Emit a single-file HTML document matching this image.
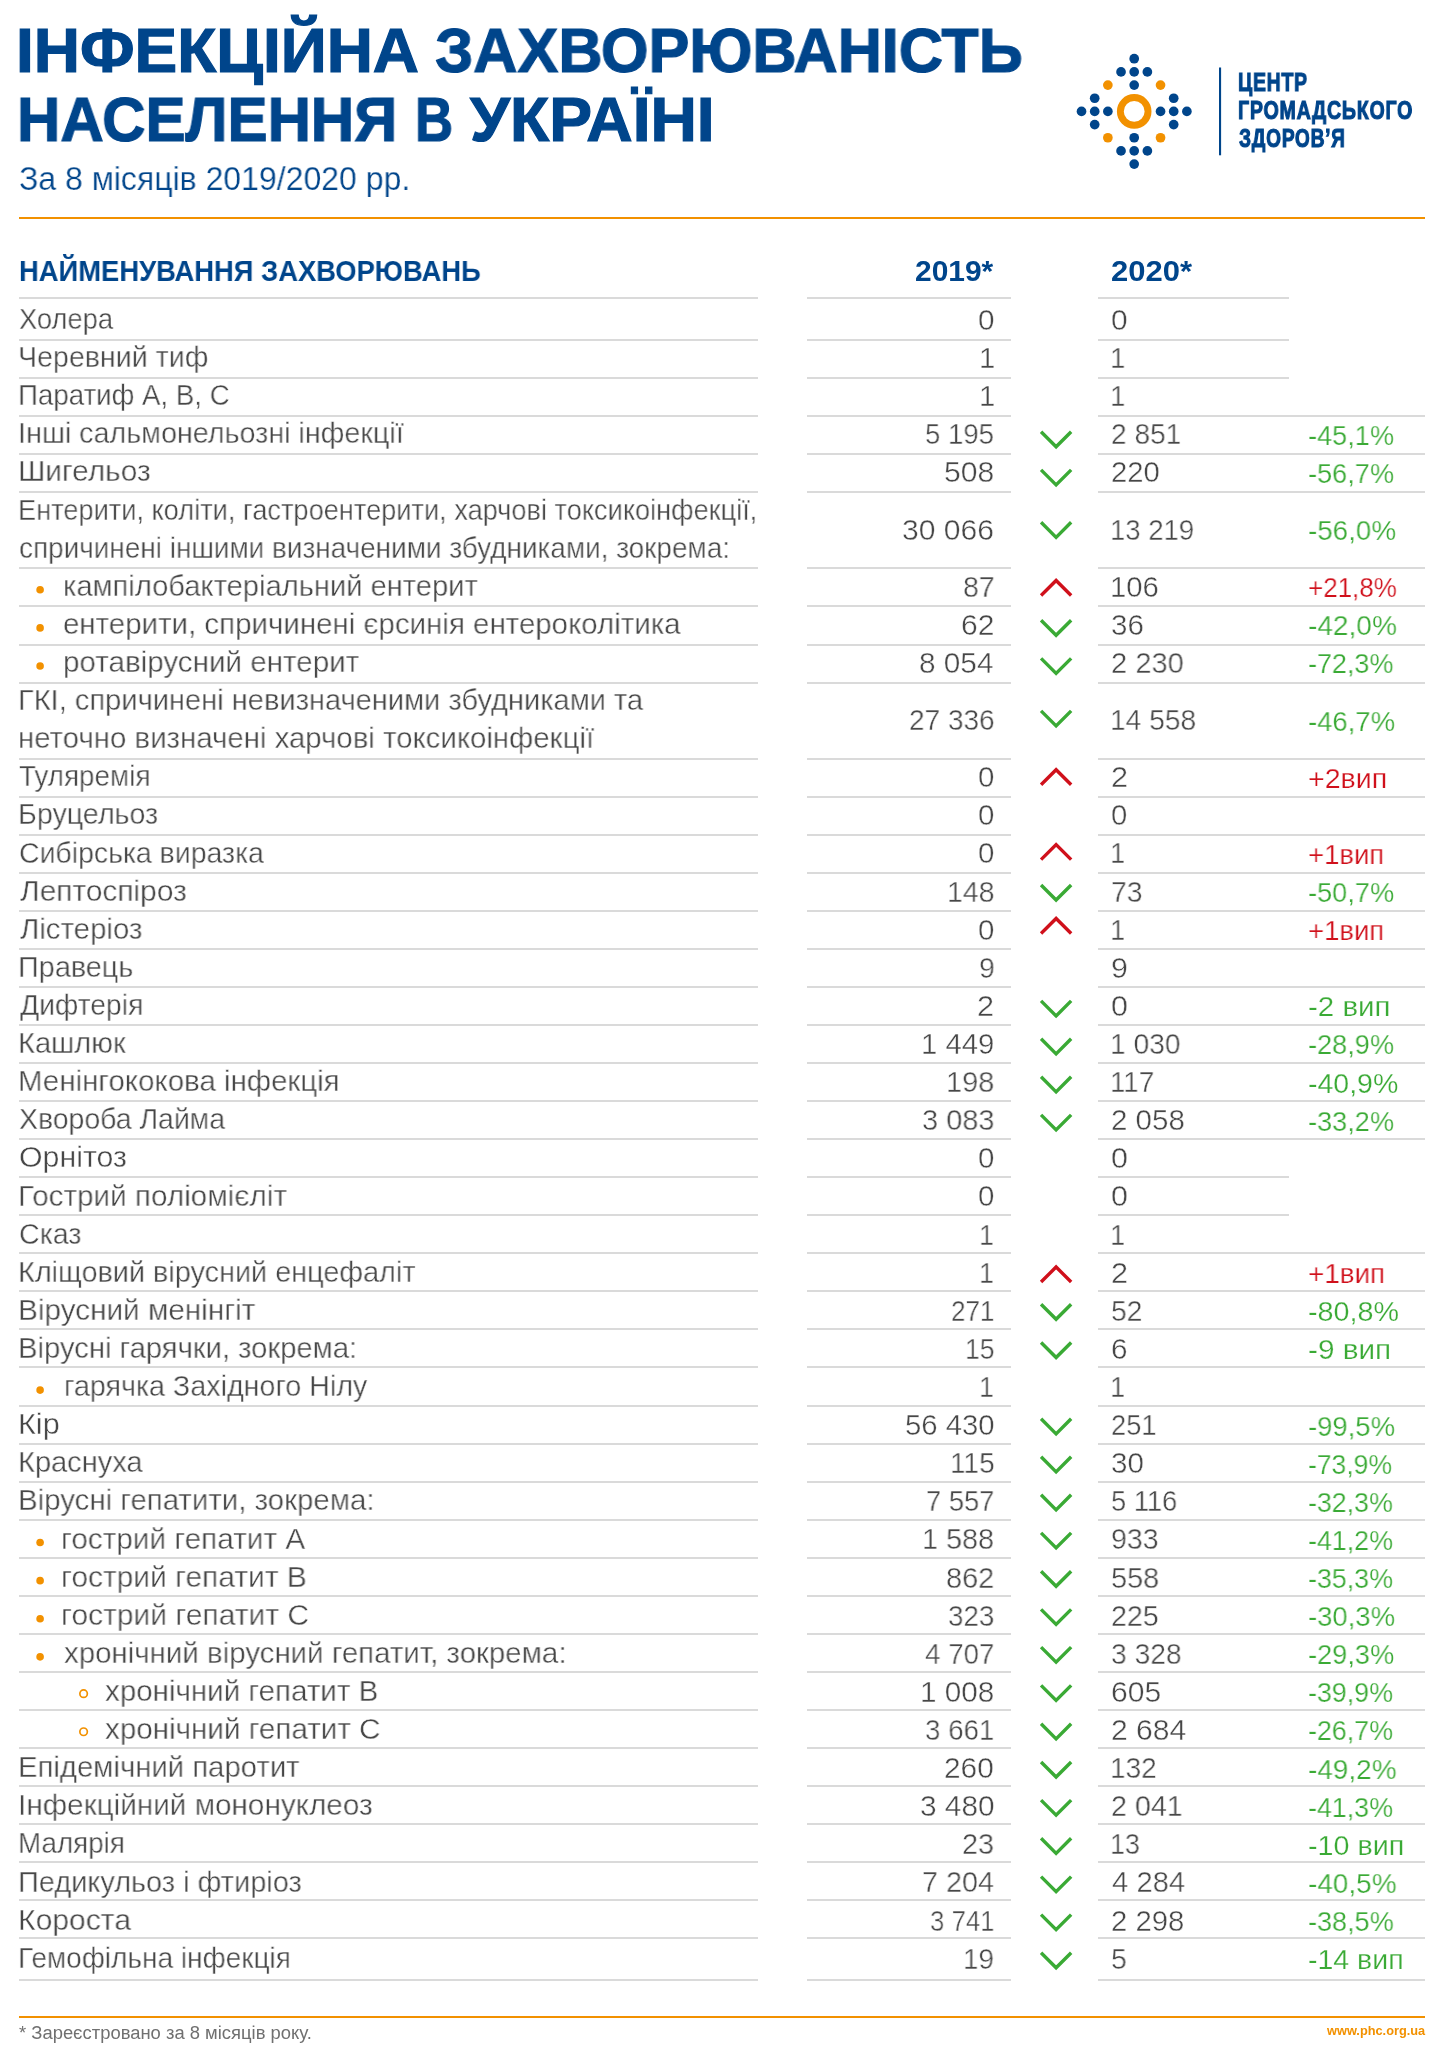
<!DOCTYPE html>
<html lang="uk"><head><meta charset="utf-8"><title>Інфекційна захворюваність населення в Україні</title>
<style>
html,body{margin:0;padding:0;background:#fff;}
body{width:1442px;height:2048px;position:relative;overflow:hidden;font-family:"Liberation Sans",sans-serif;}
.t{position:absolute;white-space:pre;line-height:1;display:block;will-change:transform;}
.l{position:absolute;}
.abs{position:absolute;}
</style></head><body>
<svg class="abs" style="left:0;top:0" width="1442" height="240">
<circle cx="1134.20" cy="58.72" r="4.85" fill="#00458b"/>
<circle cx="1121.03" cy="71.89" r="4.85" fill="#00458b"/>
<circle cx="1134.20" cy="71.89" r="4.85" fill="#00458b"/>
<circle cx="1147.37" cy="71.89" r="4.85" fill="#00458b"/>
<circle cx="1134.20" cy="85.06" r="4.85" fill="#00458b"/>
<circle cx="1094.69" cy="98.23" r="4.85" fill="#00458b"/>
<circle cx="1173.71" cy="98.23" r="4.85" fill="#00458b"/>
<circle cx="1081.52" cy="111.40" r="4.85" fill="#00458b"/>
<circle cx="1094.69" cy="111.40" r="4.85" fill="#00458b"/>
<circle cx="1107.86" cy="111.40" r="4.85" fill="#00458b"/>
<circle cx="1160.54" cy="111.40" r="4.85" fill="#00458b"/>
<circle cx="1173.71" cy="111.40" r="4.85" fill="#00458b"/>
<circle cx="1186.88" cy="111.40" r="4.85" fill="#00458b"/>
<circle cx="1094.69" cy="124.57" r="4.85" fill="#00458b"/>
<circle cx="1173.71" cy="124.57" r="4.85" fill="#00458b"/>
<circle cx="1134.20" cy="137.74" r="4.85" fill="#00458b"/>
<circle cx="1121.03" cy="150.91" r="4.85" fill="#00458b"/>
<circle cx="1134.20" cy="150.91" r="4.85" fill="#00458b"/>
<circle cx="1147.37" cy="150.91" r="4.85" fill="#00458b"/>
<circle cx="1134.20" cy="164.08" r="4.85" fill="#00458b"/>
<circle cx="1107.86" cy="85.06" r="4.85" fill="#f29100"/>
<circle cx="1160.54" cy="85.06" r="4.85" fill="#f29100"/>
<circle cx="1107.86" cy="137.74" r="4.85" fill="#f29100"/>
<circle cx="1160.54" cy="137.74" r="4.85" fill="#f29100"/>
<circle cx="1134.2" cy="111.4" r="13.85" fill="none" stroke="#f29100" stroke-width="6.9"/>
<rect x="1219" y="67.5" width="2.1" height="87.8" fill="#00458b"/>
</svg>
<div class="l" style="left:19.0px;top:216.50px;width:1406.0px;height:2px;background:#f29100"></div>
<div class="l" style="left:19.0px;top:2016.20px;width:1406.0px;height:2px;background:#f29100"></div>
<div class="l" style="left:19.0px;top:296.70px;width:739.4px;height:2px;background:#dadada"></div>
<div class="l" style="left:807.1px;top:296.70px;width:204.1px;height:2px;background:#dadada"></div>
<div class="l" style="left:1097.7px;top:296.70px;width:191.8px;height:2px;background:#dadada"></div>
<div class="l" style="left:19.0px;top:339.10px;width:739.4px;height:2px;background:#dadada"></div>
<div class="l" style="left:807.1px;top:339.10px;width:204.1px;height:2px;background:#dadada"></div>
<div class="l" style="left:1097.7px;top:339.10px;width:191.8px;height:2px;background:#dadada"></div>
<div class="l" style="left:19.0px;top:377.15px;width:739.4px;height:2px;background:#dadada"></div>
<div class="l" style="left:807.1px;top:377.15px;width:204.1px;height:2px;background:#dadada"></div>
<div class="l" style="left:1097.7px;top:377.15px;width:191.8px;height:2px;background:#dadada"></div>
<div class="l" style="left:19.0px;top:415.20px;width:739.4px;height:2px;background:#dadada"></div>
<div class="l" style="left:807.1px;top:415.20px;width:204.1px;height:2px;background:#dadada"></div>
<div class="l" style="left:1097.7px;top:415.20px;width:327.2px;height:2px;background:#dadada"></div>
<div class="l" style="left:19.0px;top:453.25px;width:739.4px;height:2px;background:#dadada"></div>
<div class="l" style="left:807.1px;top:453.25px;width:204.1px;height:2px;background:#dadada"></div>
<div class="l" style="left:1097.7px;top:453.25px;width:327.2px;height:2px;background:#dadada"></div>
<div class="l" style="left:19.0px;top:491.30px;width:739.4px;height:2px;background:#dadada"></div>
<div class="l" style="left:807.1px;top:491.30px;width:204.1px;height:2px;background:#dadada"></div>
<div class="l" style="left:1097.7px;top:491.30px;width:327.2px;height:2px;background:#dadada"></div>
<div class="l" style="left:19.0px;top:567.40px;width:739.4px;height:2px;background:#dadada"></div>
<div class="l" style="left:807.1px;top:567.40px;width:204.1px;height:2px;background:#dadada"></div>
<div class="l" style="left:1097.7px;top:567.40px;width:327.2px;height:2px;background:#dadada"></div>
<div class="l" style="left:19.0px;top:605.45px;width:739.4px;height:2px;background:#dadada"></div>
<div class="l" style="left:807.1px;top:605.45px;width:204.1px;height:2px;background:#dadada"></div>
<div class="l" style="left:1097.7px;top:605.45px;width:327.2px;height:2px;background:#dadada"></div>
<div class="l" style="left:19.0px;top:643.50px;width:739.4px;height:2px;background:#dadada"></div>
<div class="l" style="left:807.1px;top:643.50px;width:204.1px;height:2px;background:#dadada"></div>
<div class="l" style="left:1097.7px;top:643.50px;width:327.2px;height:2px;background:#dadada"></div>
<div class="l" style="left:19.0px;top:681.55px;width:739.4px;height:2px;background:#dadada"></div>
<div class="l" style="left:807.1px;top:681.55px;width:204.1px;height:2px;background:#dadada"></div>
<div class="l" style="left:1097.7px;top:681.55px;width:327.2px;height:2px;background:#dadada"></div>
<div class="l" style="left:19.0px;top:757.65px;width:739.4px;height:2px;background:#dadada"></div>
<div class="l" style="left:807.1px;top:757.65px;width:204.1px;height:2px;background:#dadada"></div>
<div class="l" style="left:1097.7px;top:757.65px;width:327.2px;height:2px;background:#dadada"></div>
<div class="l" style="left:19.0px;top:795.70px;width:739.4px;height:2px;background:#dadada"></div>
<div class="l" style="left:807.1px;top:795.70px;width:204.1px;height:2px;background:#dadada"></div>
<div class="l" style="left:1097.7px;top:795.70px;width:327.2px;height:2px;background:#dadada"></div>
<div class="l" style="left:19.0px;top:833.75px;width:739.4px;height:2px;background:#dadada"></div>
<div class="l" style="left:807.1px;top:833.75px;width:204.1px;height:2px;background:#dadada"></div>
<div class="l" style="left:1097.7px;top:833.75px;width:327.2px;height:2px;background:#dadada"></div>
<div class="l" style="left:19.0px;top:871.80px;width:739.4px;height:2px;background:#dadada"></div>
<div class="l" style="left:807.1px;top:871.80px;width:204.1px;height:2px;background:#dadada"></div>
<div class="l" style="left:1097.7px;top:871.80px;width:327.2px;height:2px;background:#dadada"></div>
<div class="l" style="left:19.0px;top:909.85px;width:739.4px;height:2px;background:#dadada"></div>
<div class="l" style="left:807.1px;top:909.85px;width:204.1px;height:2px;background:#dadada"></div>
<div class="l" style="left:1097.7px;top:909.85px;width:327.2px;height:2px;background:#dadada"></div>
<div class="l" style="left:19.0px;top:947.90px;width:739.4px;height:2px;background:#dadada"></div>
<div class="l" style="left:807.1px;top:947.90px;width:204.1px;height:2px;background:#dadada"></div>
<div class="l" style="left:1097.7px;top:947.90px;width:327.2px;height:2px;background:#dadada"></div>
<div class="l" style="left:19.0px;top:985.95px;width:739.4px;height:2px;background:#dadada"></div>
<div class="l" style="left:807.1px;top:985.95px;width:204.1px;height:2px;background:#dadada"></div>
<div class="l" style="left:1097.7px;top:985.95px;width:327.2px;height:2px;background:#dadada"></div>
<div class="l" style="left:19.0px;top:1024.00px;width:739.4px;height:2px;background:#dadada"></div>
<div class="l" style="left:807.1px;top:1024.00px;width:204.1px;height:2px;background:#dadada"></div>
<div class="l" style="left:1097.7px;top:1024.00px;width:327.2px;height:2px;background:#dadada"></div>
<div class="l" style="left:19.0px;top:1062.05px;width:739.4px;height:2px;background:#dadada"></div>
<div class="l" style="left:807.1px;top:1062.05px;width:204.1px;height:2px;background:#dadada"></div>
<div class="l" style="left:1097.7px;top:1062.05px;width:327.2px;height:2px;background:#dadada"></div>
<div class="l" style="left:19.0px;top:1100.10px;width:739.4px;height:2px;background:#dadada"></div>
<div class="l" style="left:807.1px;top:1100.10px;width:204.1px;height:2px;background:#dadada"></div>
<div class="l" style="left:1097.7px;top:1100.10px;width:327.2px;height:2px;background:#dadada"></div>
<div class="l" style="left:19.0px;top:1138.15px;width:739.4px;height:2px;background:#dadada"></div>
<div class="l" style="left:807.1px;top:1138.15px;width:204.1px;height:2px;background:#dadada"></div>
<div class="l" style="left:1097.7px;top:1138.15px;width:327.2px;height:2px;background:#dadada"></div>
<div class="l" style="left:19.0px;top:1176.20px;width:739.4px;height:2px;background:#dadada"></div>
<div class="l" style="left:807.1px;top:1176.20px;width:204.1px;height:2px;background:#dadada"></div>
<div class="l" style="left:1097.7px;top:1176.20px;width:191.8px;height:2px;background:#dadada"></div>
<div class="l" style="left:19.0px;top:1214.25px;width:739.4px;height:2px;background:#dadada"></div>
<div class="l" style="left:807.1px;top:1214.25px;width:204.1px;height:2px;background:#dadada"></div>
<div class="l" style="left:1097.7px;top:1214.25px;width:191.8px;height:2px;background:#dadada"></div>
<div class="l" style="left:19.0px;top:1252.30px;width:739.4px;height:2px;background:#dadada"></div>
<div class="l" style="left:807.1px;top:1252.30px;width:204.1px;height:2px;background:#dadada"></div>
<div class="l" style="left:1097.7px;top:1252.30px;width:327.2px;height:2px;background:#dadada"></div>
<div class="l" style="left:19.0px;top:1290.35px;width:739.4px;height:2px;background:#dadada"></div>
<div class="l" style="left:807.1px;top:1290.35px;width:204.1px;height:2px;background:#dadada"></div>
<div class="l" style="left:1097.7px;top:1290.35px;width:327.2px;height:2px;background:#dadada"></div>
<div class="l" style="left:19.0px;top:1328.40px;width:739.4px;height:2px;background:#dadada"></div>
<div class="l" style="left:807.1px;top:1328.40px;width:204.1px;height:2px;background:#dadada"></div>
<div class="l" style="left:1097.7px;top:1328.40px;width:327.2px;height:2px;background:#dadada"></div>
<div class="l" style="left:19.0px;top:1366.45px;width:739.4px;height:2px;background:#dadada"></div>
<div class="l" style="left:807.1px;top:1366.45px;width:204.1px;height:2px;background:#dadada"></div>
<div class="l" style="left:1097.7px;top:1366.45px;width:327.2px;height:2px;background:#dadada"></div>
<div class="l" style="left:19.0px;top:1404.50px;width:739.4px;height:2px;background:#dadada"></div>
<div class="l" style="left:807.1px;top:1404.50px;width:204.1px;height:2px;background:#dadada"></div>
<div class="l" style="left:1097.7px;top:1404.50px;width:327.2px;height:2px;background:#dadada"></div>
<div class="l" style="left:19.0px;top:1442.55px;width:739.4px;height:2px;background:#dadada"></div>
<div class="l" style="left:807.1px;top:1442.55px;width:204.1px;height:2px;background:#dadada"></div>
<div class="l" style="left:1097.7px;top:1442.55px;width:327.2px;height:2px;background:#dadada"></div>
<div class="l" style="left:19.0px;top:1480.60px;width:739.4px;height:2px;background:#dadada"></div>
<div class="l" style="left:807.1px;top:1480.60px;width:204.1px;height:2px;background:#dadada"></div>
<div class="l" style="left:1097.7px;top:1480.60px;width:327.2px;height:2px;background:#dadada"></div>
<div class="l" style="left:19.0px;top:1518.65px;width:739.4px;height:2px;background:#dadada"></div>
<div class="l" style="left:807.1px;top:1518.65px;width:204.1px;height:2px;background:#dadada"></div>
<div class="l" style="left:1097.7px;top:1518.65px;width:327.2px;height:2px;background:#dadada"></div>
<div class="l" style="left:19.0px;top:1556.70px;width:739.4px;height:2px;background:#dadada"></div>
<div class="l" style="left:807.1px;top:1556.70px;width:204.1px;height:2px;background:#dadada"></div>
<div class="l" style="left:1097.7px;top:1556.70px;width:327.2px;height:2px;background:#dadada"></div>
<div class="l" style="left:19.0px;top:1594.75px;width:739.4px;height:2px;background:#dadada"></div>
<div class="l" style="left:807.1px;top:1594.75px;width:204.1px;height:2px;background:#dadada"></div>
<div class="l" style="left:1097.7px;top:1594.75px;width:327.2px;height:2px;background:#dadada"></div>
<div class="l" style="left:19.0px;top:1632.80px;width:739.4px;height:2px;background:#dadada"></div>
<div class="l" style="left:807.1px;top:1632.80px;width:204.1px;height:2px;background:#dadada"></div>
<div class="l" style="left:1097.7px;top:1632.80px;width:327.2px;height:2px;background:#dadada"></div>
<div class="l" style="left:19.0px;top:1670.85px;width:739.4px;height:2px;background:#dadada"></div>
<div class="l" style="left:807.1px;top:1670.85px;width:204.1px;height:2px;background:#dadada"></div>
<div class="l" style="left:1097.7px;top:1670.85px;width:327.2px;height:2px;background:#dadada"></div>
<div class="l" style="left:19.0px;top:1708.90px;width:739.4px;height:2px;background:#dadada"></div>
<div class="l" style="left:807.1px;top:1708.90px;width:204.1px;height:2px;background:#dadada"></div>
<div class="l" style="left:1097.7px;top:1708.90px;width:327.2px;height:2px;background:#dadada"></div>
<div class="l" style="left:19.0px;top:1746.95px;width:739.4px;height:2px;background:#dadada"></div>
<div class="l" style="left:807.1px;top:1746.95px;width:204.1px;height:2px;background:#dadada"></div>
<div class="l" style="left:1097.7px;top:1746.95px;width:327.2px;height:2px;background:#dadada"></div>
<div class="l" style="left:19.0px;top:1785.00px;width:739.4px;height:2px;background:#dadada"></div>
<div class="l" style="left:807.1px;top:1785.00px;width:204.1px;height:2px;background:#dadada"></div>
<div class="l" style="left:1097.7px;top:1785.00px;width:327.2px;height:2px;background:#dadada"></div>
<div class="l" style="left:19.0px;top:1823.05px;width:739.4px;height:2px;background:#dadada"></div>
<div class="l" style="left:807.1px;top:1823.05px;width:204.1px;height:2px;background:#dadada"></div>
<div class="l" style="left:1097.7px;top:1823.05px;width:327.2px;height:2px;background:#dadada"></div>
<div class="l" style="left:19.0px;top:1861.10px;width:739.4px;height:2px;background:#dadada"></div>
<div class="l" style="left:807.1px;top:1861.10px;width:204.1px;height:2px;background:#dadada"></div>
<div class="l" style="left:1097.7px;top:1861.10px;width:327.2px;height:2px;background:#dadada"></div>
<div class="l" style="left:19.0px;top:1899.15px;width:739.4px;height:2px;background:#dadada"></div>
<div class="l" style="left:807.1px;top:1899.15px;width:204.1px;height:2px;background:#dadada"></div>
<div class="l" style="left:1097.7px;top:1899.15px;width:327.2px;height:2px;background:#dadada"></div>
<div class="l" style="left:19.0px;top:1937.20px;width:739.4px;height:2px;background:#dadada"></div>
<div class="l" style="left:807.1px;top:1937.20px;width:204.1px;height:2px;background:#dadada"></div>
<div class="l" style="left:1097.7px;top:1937.20px;width:327.2px;height:2px;background:#dadada"></div>
<div class="l" style="left:19.0px;top:1979.10px;width:739.4px;height:2px;background:#dadada"></div>
<div class="l" style="left:807.1px;top:1979.10px;width:204.1px;height:2px;background:#dadada"></div>
<div class="l" style="left:1097.7px;top:1979.10px;width:327.2px;height:2px;background:#dadada"></div>
<span class="t" style="left:16.45px;top:18.36px;font-size:63.6px;font-weight:bold;color:#00458b;transform:scaleX(1.0056);transform-origin:0 0;-webkit-text-stroke:1.2px #00458b">ІНФЕКЦІЙНА</span>
<span class="t" style="left:434.65px;top:18.36px;font-size:63.6px;font-weight:bold;color:#00458b;transform:scaleX(0.9617);transform-origin:0 0;-webkit-text-stroke:1.2px #00458b">ЗАХВОРЮВАНІСТЬ</span>
<span class="t" style="left:16.67px;top:86.96px;font-size:63.6px;font-weight:bold;color:#00458b;transform:scaleX(0.9431);transform-origin:0 0;-webkit-text-stroke:1.2px #00458b">НАСЕЛЕННЯ</span>
<span class="t" style="left:415.37px;top:86.96px;font-size:63.6px;font-weight:bold;color:#00458b;transform:scaleX(0.8285);transform-origin:0 0;-webkit-text-stroke:1.2px #00458b">В</span>
<span class="t" style="left:469.61px;top:86.96px;font-size:63.6px;font-weight:bold;color:#00458b;transform:scaleX(1.0096);transform-origin:0 0;-webkit-text-stroke:1.2px #00458b">УКРАЇНІ</span>
<span class="t" style="left:19.14px;top:161.80px;font-size:33.2px;font-weight:normal;color:#00458b;transform:scaleX(0.9645);transform-origin:0 0;-webkit-text-stroke:0.25px #fff">За 8 місяців 2019/2020 рр.</span>
<span class="t" style="left:1238.14px;top:68.92px;font-size:26.2px;font-weight:bold;color:#00458b;transform:scaleX(0.7426);transform-origin:0 0;-webkit-text-stroke:1.1px #00458b;letter-spacing:1.0px">ЦЕНТР</span>
<span class="t" style="left:1238.14px;top:96.92px;font-size:26.2px;font-weight:bold;color:#00458b;transform:scaleX(0.7493);transform-origin:0 0;-webkit-text-stroke:1.1px #00458b;letter-spacing:1.0px">ГРОМАДСЬКОГО</span>
<span class="t" style="left:1239.02px;top:125.02px;font-size:26.2px;font-weight:bold;color:#00458b;transform:scaleX(0.7310);transform-origin:0 0;-webkit-text-stroke:1.1px #00458b;letter-spacing:1.0px">ЗДОРОВ’Я</span>
<span class="t" style="left:18.82px;top:255.97px;font-size:29.8px;font-weight:bold;color:#00458b;transform:scaleX(0.9186);transform-origin:0 0">НАЙМЕНУВАННЯ ЗАХВОРЮВАНЬ</span>
<span class="t" style="left:914.70px;top:256.37px;font-size:29.8px;font-weight:bold;color:#00458b;transform:scaleX(1.0049);transform-origin:0 0">2019*</span>
<span class="t" style="left:1111.27px;top:256.37px;font-size:29.8px;font-weight:bold;color:#00458b;transform:scaleX(1.0400);transform-origin:0 0">2020*</span>
<span class="t" style="left:18.72px;top:2024.70px;font-size:17.6px;font-weight:normal;color:#707070;transform:scaleX(1.0465);transform-origin:0 0">* Зареєстровано за 8 місяців року.</span>
<span class="t" style="left:1326.56px;top:2025.02px;font-size:12.5px;font-weight:bold;color:#f29100;transform:scaleX(1.0224);transform-origin:0 0">www.phc.org.ua</span>
<span class="t" style="left:19.45px;top:304.05px;font-size:30.3px;font-weight:normal;color:#474747;transform:scaleX(0.9017);transform-origin:0 0;-webkit-text-stroke:0.4px #fff">Холера</span>
<span class="t" style="left:977.66px;top:304.90px;font-size:29.3px;font-weight:normal;color:#474747;transform:scaleX(1.0133);transform-origin:0 0;-webkit-text-stroke:0.4px #fff">0</span>
<span class="t" style="left:1111.15px;top:304.90px;font-size:29.3px;font-weight:normal;color:#474747;transform:scaleX(1.0204);transform-origin:0 0;-webkit-text-stroke:0.4px #fff">0</span>
<span class="t" style="left:17.86px;top:342.16px;font-size:30.3px;font-weight:normal;color:#474747;transform:scaleX(0.9437);transform-origin:0 0;-webkit-text-stroke:0.4px #fff">Черевний тиф</span>
<span class="t" style="left:978.56px;top:343.01px;font-size:29.3px;font-weight:normal;color:#474747;transform:scaleX(0.9729);transform-origin:0 0;-webkit-text-stroke:0.4px #fff">1</span>
<span class="t" style="left:1110.11px;top:343.01px;font-size:29.3px;font-weight:normal;color:#474747;transform:scaleX(0.9494);transform-origin:0 0;-webkit-text-stroke:0.4px #fff">1</span>
<span class="t" style="left:18.39px;top:380.27px;font-size:30.3px;font-weight:normal;color:#474747;transform:scaleX(0.9131);transform-origin:0 0;-webkit-text-stroke:0.4px #fff">Паратиф А, В, С</span>
<span class="t" style="left:978.56px;top:381.12px;font-size:29.3px;font-weight:normal;color:#474747;transform:scaleX(0.9729);transform-origin:0 0;-webkit-text-stroke:0.4px #fff">1</span>
<span class="t" style="left:1110.11px;top:381.12px;font-size:29.3px;font-weight:normal;color:#474747;transform:scaleX(0.9494);transform-origin:0 0;-webkit-text-stroke:0.4px #fff">1</span>
<span class="t" style="left:18.02px;top:418.38px;font-size:30.3px;font-weight:normal;color:#474747;transform:scaleX(0.9475);transform-origin:0 0;-webkit-text-stroke:0.4px #fff">Інші сальмонельозні інфекції</span>
<span class="t" style="left:925.30px;top:419.23px;font-size:29.3px;font-weight:normal;color:#474747;transform:scaleX(0.9402);transform-origin:0 0;-webkit-text-stroke:0.4px #fff">5 195</span>
<span class="t" style="left:1110.80px;top:419.23px;font-size:29.3px;font-weight:normal;color:#474747;transform:scaleX(0.9588);transform-origin:0 0;-webkit-text-stroke:0.4px #fff">2 851</span>
<span class="t" style="left:1307.91px;top:420.70px;font-size:28.5px;font-weight:normal;color:#3aaa35;transform:scaleX(0.9525);transform-origin:0 0;-webkit-text-stroke:0.25px #fff">-45,1%</span>
<span class="t" style="left:17.62px;top:456.49px;font-size:30.3px;font-weight:normal;color:#474747;transform:scaleX(0.9836);transform-origin:0 0;-webkit-text-stroke:0.4px #fff">Шигельоз</span>
<span class="t" style="left:944.10px;top:457.34px;font-size:29.3px;font-weight:normal;color:#474747;transform:scaleX(1.0278);transform-origin:0 0;-webkit-text-stroke:0.4px #fff">508</span>
<span class="t" style="left:1110.74px;top:457.34px;font-size:29.3px;font-weight:normal;color:#474747;transform:scaleX(0.9987);transform-origin:0 0;-webkit-text-stroke:0.4px #fff">220</span>
<span class="t" style="left:1307.91px;top:458.81px;font-size:28.5px;font-weight:normal;color:#3aaa35;transform:scaleX(0.9525);transform-origin:0 0;-webkit-text-stroke:0.25px #fff">-56,7%</span>
<span class="t" style="left:17.82px;top:494.60px;font-size:30.3px;font-weight:normal;color:#474747;transform:scaleX(0.8978);transform-origin:0 0;-webkit-text-stroke:0.4px #fff">Ентерити, коліти, гастроентерити, харчові токсикоінфекції,</span>
<span class="t" style="left:18.88px;top:532.71px;font-size:30.3px;font-weight:normal;color:#474747;transform:scaleX(0.9220);transform-origin:0 0;-webkit-text-stroke:0.4px #fff">спричинені іншими визначеними збудниками, зокрема:</span>
<span class="t" style="left:902.35px;top:514.50px;font-size:29.3px;font-weight:normal;color:#474747;transform:scaleX(1.0265);transform-origin:0 0;-webkit-text-stroke:0.4px #fff">30 066</span>
<span class="t" style="left:1110.14px;top:514.50px;font-size:29.3px;font-weight:normal;color:#474747;transform:scaleX(0.9388);transform-origin:0 0;-webkit-text-stroke:0.4px #fff">13 219</span>
<span class="t" style="left:1307.89px;top:515.98px;font-size:28.5px;font-weight:normal;color:#3aaa35;transform:scaleX(0.9752);transform-origin:0 0;-webkit-text-stroke:0.25px #fff">-56,0%</span>
<span class="t" style="left:62.51px;top:570.82px;font-size:30.3px;font-weight:normal;color:#474747;transform:scaleX(0.9611);transform-origin:0 0;-webkit-text-stroke:0.4px #fff">кампілобактеріальний ентерит</span>
<span class="t" style="left:962.66px;top:571.67px;font-size:29.3px;font-weight:normal;color:#474747;transform:scaleX(0.9745);transform-origin:0 0;-webkit-text-stroke:0.4px #fff">87</span>
<span class="t" style="left:1110.00px;top:571.67px;font-size:29.3px;font-weight:normal;color:#474747;transform:scaleX(1.0004);transform-origin:0 0;-webkit-text-stroke:0.4px #fff">106</span>
<span class="t" style="left:1307.83px;top:573.14px;font-size:28.5px;font-weight:normal;color:#d0101b;transform:scaleX(0.9118);transform-origin:0 0;-webkit-text-stroke:0.25px #fff">+21,8%</span>
<span class="t" style="left:63.22px;top:608.93px;font-size:30.3px;font-weight:normal;color:#474747;transform:scaleX(0.9727);transform-origin:0 0;-webkit-text-stroke:0.4px #fff">ентерити, спричинені єрсинія ентероколітика</span>
<span class="t" style="left:961.10px;top:609.78px;font-size:29.3px;font-weight:normal;color:#474747;transform:scaleX(1.0244);transform-origin:0 0;-webkit-text-stroke:0.4px #fff">62</span>
<span class="t" style="left:1111.17px;top:609.78px;font-size:29.3px;font-weight:normal;color:#474747;transform:scaleX(1.0079);transform-origin:0 0;-webkit-text-stroke:0.4px #fff">36</span>
<span class="t" style="left:1307.88px;top:611.25px;font-size:28.5px;font-weight:normal;color:#3aaa35;transform:scaleX(0.9843);transform-origin:0 0;-webkit-text-stroke:0.25px #fff">-42,0%</span>
<span class="t" style="left:62.62px;top:647.04px;font-size:30.3px;font-weight:normal;color:#474747;transform:scaleX(0.9766);transform-origin:0 0;-webkit-text-stroke:0.4px #fff">ротавірусний ентерит</span>
<span class="t" style="left:919.41px;top:647.89px;font-size:29.3px;font-weight:normal;color:#474747;transform:scaleX(1.0156);transform-origin:0 0;-webkit-text-stroke:0.4px #fff">8 054</span>
<span class="t" style="left:1110.75px;top:647.89px;font-size:29.3px;font-weight:normal;color:#474747;transform:scaleX(0.9930);transform-origin:0 0;-webkit-text-stroke:0.4px #fff">2 230</span>
<span class="t" style="left:1307.92px;top:649.36px;font-size:28.5px;font-weight:normal;color:#3aaa35;transform:scaleX(0.9457);transform-origin:0 0;-webkit-text-stroke:0.25px #fff">-72,3%</span>
<span class="t" style="left:17.67px;top:685.15px;font-size:30.3px;font-weight:normal;color:#474747;transform:scaleX(0.9592);transform-origin:0 0;-webkit-text-stroke:0.4px #fff">ГКІ, спричинені невизначеними збудниками та</span>
<span class="t" style="left:18.09px;top:723.26px;font-size:30.3px;font-weight:normal;color:#474747;transform:scaleX(0.9704);transform-origin:0 0;-webkit-text-stroke:0.4px #fff">неточно визначені харчові токсикоінфекції</span>
<span class="t" style="left:908.60px;top:705.05px;font-size:29.3px;font-weight:normal;color:#474747;transform:scaleX(0.9558);transform-origin:0 0;-webkit-text-stroke:0.4px #fff">27 336</span>
<span class="t" style="left:1110.09px;top:705.05px;font-size:29.3px;font-weight:normal;color:#474747;transform:scaleX(0.9616);transform-origin:0 0;-webkit-text-stroke:0.4px #fff">14 558</span>
<span class="t" style="left:1307.90px;top:706.53px;font-size:28.5px;font-weight:normal;color:#3aaa35;transform:scaleX(0.9639);transform-origin:0 0;-webkit-text-stroke:0.25px #fff">-46,7%</span>
<span class="t" style="left:19.44px;top:761.37px;font-size:30.3px;font-weight:normal;color:#474747;transform:scaleX(0.9186);transform-origin:0 0;-webkit-text-stroke:0.4px #fff">Туляремія</span>
<span class="t" style="left:977.77px;top:762.22px;font-size:29.3px;font-weight:normal;color:#474747;transform:scaleX(1.0063);transform-origin:0 0;-webkit-text-stroke:0.4px #fff">0</span>
<span class="t" style="left:1110.67px;top:762.22px;font-size:29.3px;font-weight:normal;color:#474747;transform:scaleX(1.0461);transform-origin:0 0;-webkit-text-stroke:0.4px #fff">2</span>
<span class="t" style="left:1307.71px;top:763.69px;font-size:28.5px;font-weight:normal;color:#d0101b;transform:scaleX(1.0025);transform-origin:0 0;-webkit-text-stroke:0.25px #fff">+2вип</span>
<span class="t" style="left:17.71px;top:799.48px;font-size:30.3px;font-weight:normal;color:#474747;transform:scaleX(0.9459);transform-origin:0 0;-webkit-text-stroke:0.4px #fff">Бруцельоз</span>
<span class="t" style="left:977.77px;top:800.33px;font-size:29.3px;font-weight:normal;color:#474747;transform:scaleX(1.0063);transform-origin:0 0;-webkit-text-stroke:0.4px #fff">0</span>
<span class="t" style="left:1111.18px;top:800.33px;font-size:29.3px;font-weight:normal;color:#474747;transform:scaleX(0.9922);transform-origin:0 0;-webkit-text-stroke:0.4px #fff">0</span>
<span class="t" style="left:18.58px;top:837.59px;font-size:30.3px;font-weight:normal;color:#474747;transform:scaleX(0.9386);transform-origin:0 0;-webkit-text-stroke:0.4px #fff">Сибірська виразка</span>
<span class="t" style="left:977.77px;top:838.44px;font-size:29.3px;font-weight:normal;color:#474747;transform:scaleX(1.0063);transform-origin:0 0;-webkit-text-stroke:0.4px #fff">0</span>
<span class="t" style="left:1110.15px;top:838.44px;font-size:29.3px;font-weight:normal;color:#474747;transform:scaleX(0.9337);transform-origin:0 0;-webkit-text-stroke:0.4px #fff">1</span>
<span class="t" style="left:1307.76px;top:839.91px;font-size:28.5px;font-weight:normal;color:#d0101b;transform:scaleX(0.9643);transform-origin:0 0;-webkit-text-stroke:0.25px #fff">+1вип</span>
<span class="t" style="left:19.85px;top:875.70px;font-size:30.3px;font-weight:normal;color:#474747;transform:scaleX(0.9862);transform-origin:0 0;-webkit-text-stroke:0.4px #fff">Лептоспіроз</span>
<span class="t" style="left:946.66px;top:876.55px;font-size:29.3px;font-weight:normal;color:#474747;transform:scaleX(0.9740);transform-origin:0 0;-webkit-text-stroke:0.4px #fff">148</span>
<span class="t" style="left:1110.78px;top:876.55px;font-size:29.3px;font-weight:normal;color:#474747;transform:scaleX(0.9693);transform-origin:0 0;-webkit-text-stroke:0.4px #fff">73</span>
<span class="t" style="left:1307.91px;top:878.02px;font-size:28.5px;font-weight:normal;color:#3aaa35;transform:scaleX(0.9537);transform-origin:0 0;-webkit-text-stroke:0.25px #fff">-50,7%</span>
<span class="t" style="left:19.85px;top:913.81px;font-size:30.3px;font-weight:normal;color:#474747;transform:scaleX(0.9706);transform-origin:0 0;-webkit-text-stroke:0.4px #fff">Лістеріоз</span>
<span class="t" style="left:977.77px;top:914.66px;font-size:29.3px;font-weight:normal;color:#474747;transform:scaleX(1.0063);transform-origin:0 0;-webkit-text-stroke:0.4px #fff">0</span>
<span class="t" style="left:1110.15px;top:914.66px;font-size:29.3px;font-weight:normal;color:#474747;transform:scaleX(0.9337);transform-origin:0 0;-webkit-text-stroke:0.4px #fff">1</span>
<span class="t" style="left:1307.76px;top:916.13px;font-size:28.5px;font-weight:normal;color:#d0101b;transform:scaleX(0.9643);transform-origin:0 0;-webkit-text-stroke:0.25px #fff">+1вип</span>
<span class="t" style="left:17.69px;top:951.92px;font-size:30.3px;font-weight:normal;color:#474747;transform:scaleX(0.9510);transform-origin:0 0;-webkit-text-stroke:0.4px #fff">Правець</span>
<span class="t" style="left:978.62px;top:952.77px;font-size:29.3px;font-weight:normal;color:#474747;transform:scaleX(0.9688);transform-origin:0 0;-webkit-text-stroke:0.4px #fff">9</span>
<span class="t" style="left:1110.84px;top:952.77px;font-size:29.3px;font-weight:normal;color:#474747;transform:scaleX(1.0349);transform-origin:0 0;-webkit-text-stroke:0.4px #fff">9</span>
<span class="t" style="left:19.86px;top:990.03px;font-size:30.3px;font-weight:normal;color:#474747;transform:scaleX(0.9336);transform-origin:0 0;-webkit-text-stroke:0.4px #fff">Дифтерія</span>
<span class="t" style="left:977.47px;top:990.88px;font-size:29.3px;font-weight:normal;color:#474747;transform:scaleX(1.0461);transform-origin:0 0;-webkit-text-stroke:0.4px #fff">2</span>
<span class="t" style="left:1111.13px;top:990.88px;font-size:29.3px;font-weight:normal;color:#474747;transform:scaleX(1.0415);transform-origin:0 0;-webkit-text-stroke:0.4px #fff">0</span>
<span class="t" style="left:1307.82px;top:992.35px;font-size:28.5px;font-weight:normal;color:#3aaa35;transform:scaleX(1.0337);transform-origin:0 0;-webkit-text-stroke:0.25px #fff">-2 вип</span>
<span class="t" style="left:17.68px;top:1028.14px;font-size:30.3px;font-weight:normal;color:#474747;transform:scaleX(0.9567);transform-origin:0 0;-webkit-text-stroke:0.4px #fff">Кашлюк</span>
<span class="t" style="left:921.10px;top:1028.99px;font-size:29.3px;font-weight:normal;color:#474747;transform:scaleX(1.0004);transform-origin:0 0;-webkit-text-stroke:0.4px #fff">1 449</span>
<span class="t" style="left:1110.09px;top:1028.99px;font-size:29.3px;font-weight:normal;color:#474747;transform:scaleX(0.9620);transform-origin:0 0;-webkit-text-stroke:0.4px #fff">1 030</span>
<span class="t" style="left:1307.91px;top:1030.46px;font-size:28.5px;font-weight:normal;color:#3aaa35;transform:scaleX(0.9525);transform-origin:0 0;-webkit-text-stroke:0.25px #fff">-28,9%</span>
<span class="t" style="left:17.64px;top:1066.25px;font-size:30.3px;font-weight:normal;color:#474747;transform:scaleX(0.9726);transform-origin:0 0;-webkit-text-stroke:0.4px #fff">Менінгококова інфекція</span>
<span class="t" style="left:945.93px;top:1067.10px;font-size:29.3px;font-weight:normal;color:#474747;transform:scaleX(0.9894);transform-origin:0 0;-webkit-text-stroke:0.4px #fff">198</span>
<span class="t" style="left:1110.12px;top:1067.10px;font-size:29.3px;font-weight:normal;color:#474747;transform:scaleX(0.9453);transform-origin:0 0;-webkit-text-stroke:0.4px #fff">117</span>
<span class="t" style="left:1307.86px;top:1068.57px;font-size:28.5px;font-weight:normal;color:#3aaa35;transform:scaleX(0.9979);transform-origin:0 0;-webkit-text-stroke:0.25px #fff">-40,9%</span>
<span class="t" style="left:19.43px;top:1104.36px;font-size:30.3px;font-weight:normal;color:#474747;transform:scaleX(0.9375);transform-origin:0 0;-webkit-text-stroke:0.4px #fff">Хвороба Лайма</span>
<span class="t" style="left:921.79px;top:1105.21px;font-size:29.3px;font-weight:normal;color:#474747;transform:scaleX(0.9889);transform-origin:0 0;-webkit-text-stroke:0.4px #fff">3 083</span>
<span class="t" style="left:1110.72px;top:1105.21px;font-size:29.3px;font-weight:normal;color:#474747;transform:scaleX(1.0078);transform-origin:0 0;-webkit-text-stroke:0.4px #fff">2 058</span>
<span class="t" style="left:1307.91px;top:1106.68px;font-size:28.5px;font-weight:normal;color:#3aaa35;transform:scaleX(0.9525);transform-origin:0 0;-webkit-text-stroke:0.25px #fff">-33,2%</span>
<span class="t" style="left:18.64px;top:1142.47px;font-size:30.3px;font-weight:normal;color:#474747;transform:scaleX(1.0005);transform-origin:0 0;-webkit-text-stroke:0.4px #fff">Орнітоз</span>
<span class="t" style="left:977.77px;top:1143.32px;font-size:29.3px;font-weight:normal;color:#474747;transform:scaleX(1.0063);transform-origin:0 0;-webkit-text-stroke:0.4px #fff">0</span>
<span class="t" style="left:1111.13px;top:1143.32px;font-size:29.3px;font-weight:normal;color:#474747;transform:scaleX(1.0415);transform-origin:0 0;-webkit-text-stroke:0.4px #fff">0</span>
<span class="t" style="left:17.63px;top:1180.58px;font-size:30.3px;font-weight:normal;color:#474747;transform:scaleX(0.9796);transform-origin:0 0;-webkit-text-stroke:0.4px #fff">Гострий поліомієліт</span>
<span class="t" style="left:977.77px;top:1181.43px;font-size:29.3px;font-weight:normal;color:#474747;transform:scaleX(1.0063);transform-origin:0 0;-webkit-text-stroke:0.4px #fff">0</span>
<span class="t" style="left:1111.13px;top:1181.43px;font-size:29.3px;font-weight:normal;color:#474747;transform:scaleX(1.0415);transform-origin:0 0;-webkit-text-stroke:0.4px #fff">0</span>
<span class="t" style="left:18.57px;top:1218.69px;font-size:30.3px;font-weight:normal;color:#474747;transform:scaleX(0.9438);transform-origin:0 0;-webkit-text-stroke:0.4px #fff">Сказ</span>
<span class="t" style="left:979.38px;top:1219.54px;font-size:29.3px;font-weight:normal;color:#474747;transform:scaleX(0.9180);transform-origin:0 0;-webkit-text-stroke:0.4px #fff">1</span>
<span class="t" style="left:1110.15px;top:1219.54px;font-size:29.3px;font-weight:normal;color:#474747;transform:scaleX(0.9337);transform-origin:0 0;-webkit-text-stroke:0.4px #fff">1</span>
<span class="t" style="left:17.69px;top:1256.80px;font-size:30.3px;font-weight:normal;color:#474747;transform:scaleX(0.9519);transform-origin:0 0;-webkit-text-stroke:0.4px #fff">Кліщовий вірусний енцефаліт</span>
<span class="t" style="left:979.38px;top:1257.65px;font-size:29.3px;font-weight:normal;color:#474747;transform:scaleX(0.9180);transform-origin:0 0;-webkit-text-stroke:0.4px #fff">1</span>
<span class="t" style="left:1110.67px;top:1257.65px;font-size:29.3px;font-weight:normal;color:#474747;transform:scaleX(1.0461);transform-origin:0 0;-webkit-text-stroke:0.4px #fff">2</span>
<span class="t" style="left:1307.75px;top:1259.12px;font-size:28.5px;font-weight:normal;color:#d0101b;transform:scaleX(0.9761);transform-origin:0 0;-webkit-text-stroke:0.25px #fff">+1вип</span>
<span class="t" style="left:17.62px;top:1294.91px;font-size:30.3px;font-weight:normal;color:#474747;transform:scaleX(0.9810);transform-origin:0 0;-webkit-text-stroke:0.4px #fff">Вірусний менінгіт</span>
<span class="t" style="left:950.80px;top:1295.76px;font-size:29.3px;font-weight:normal;color:#474747;transform:scaleX(0.8900);transform-origin:0 0;-webkit-text-stroke:0.4px #fff">271</span>
<span class="t" style="left:1111.07px;top:1295.76px;font-size:29.3px;font-weight:normal;color:#474747;transform:scaleX(0.9645);transform-origin:0 0;-webkit-text-stroke:0.4px #fff">52</span>
<span class="t" style="left:1307.85px;top:1297.23px;font-size:28.5px;font-weight:normal;color:#3aaa35;transform:scaleX(1.0069);transform-origin:0 0;-webkit-text-stroke:0.25px #fff">-80,8%</span>
<span class="t" style="left:17.66px;top:1333.02px;font-size:30.3px;font-weight:normal;color:#474747;transform:scaleX(0.9641);transform-origin:0 0;-webkit-text-stroke:0.4px #fff">Вірусні гарячки, зокрема:</span>
<span class="t" style="left:964.60px;top:1333.87px;font-size:29.3px;font-weight:normal;color:#474747;transform:scaleX(0.9079);transform-origin:0 0;-webkit-text-stroke:0.4px #fff">15</span>
<span class="t" style="left:1110.72px;top:1333.87px;font-size:29.3px;font-weight:normal;color:#474747;transform:scaleX(1.0129);transform-origin:0 0;-webkit-text-stroke:0.4px #fff">6</span>
<span class="t" style="left:1307.81px;top:1335.34px;font-size:28.5px;font-weight:normal;color:#3aaa35;transform:scaleX(1.0428);transform-origin:0 0;-webkit-text-stroke:0.25px #fff">-9 вип</span>
<span class="t" style="left:64.04px;top:1371.13px;font-size:30.3px;font-weight:normal;color:#474747;transform:scaleX(0.9464);transform-origin:0 0;-webkit-text-stroke:0.4px #fff">гарячка Західного Нілу</span>
<span class="t" style="left:979.38px;top:1371.98px;font-size:29.3px;font-weight:normal;color:#474747;transform:scaleX(0.9180);transform-origin:0 0;-webkit-text-stroke:0.4px #fff">1</span>
<span class="t" style="left:1110.15px;top:1371.98px;font-size:29.3px;font-weight:normal;color:#474747;transform:scaleX(0.9337);transform-origin:0 0;-webkit-text-stroke:0.4px #fff">1</span>
<span class="t" style="left:17.55px;top:1409.24px;font-size:30.3px;font-weight:normal;color:#474747;transform:scaleX(1.0116);transform-origin:0 0;-webkit-text-stroke:0.4px #fff">Кір</span>
<span class="t" style="left:904.83px;top:1410.09px;font-size:29.3px;font-weight:normal;color:#474747;transform:scaleX(0.9967);transform-origin:0 0;-webkit-text-stroke:0.4px #fff">56 430</span>
<span class="t" style="left:1110.83px;top:1410.09px;font-size:29.3px;font-weight:normal;color:#474747;transform:scaleX(0.9334);transform-origin:0 0;-webkit-text-stroke:0.4px #fff">251</span>
<span class="t" style="left:1307.90px;top:1411.56px;font-size:28.5px;font-weight:normal;color:#3aaa35;transform:scaleX(0.9639);transform-origin:0 0;-webkit-text-stroke:0.25px #fff">-99,5%</span>
<span class="t" style="left:17.68px;top:1447.35px;font-size:30.3px;font-weight:normal;color:#474747;transform:scaleX(0.9574);transform-origin:0 0;-webkit-text-stroke:0.4px #fff">Краснуха</span>
<span class="t" style="left:949.60px;top:1448.20px;font-size:29.3px;font-weight:normal;color:#474747;transform:scaleX(0.9559);transform-origin:0 0;-webkit-text-stroke:0.4px #fff">115</span>
<span class="t" style="left:1111.16px;top:1448.20px;font-size:29.3px;font-weight:normal;color:#474747;transform:scaleX(1.0096);transform-origin:0 0;-webkit-text-stroke:0.4px #fff">30</span>
<span class="t" style="left:1307.94px;top:1449.67px;font-size:28.5px;font-weight:normal;color:#3aaa35;transform:scaleX(0.9298);transform-origin:0 0;-webkit-text-stroke:0.25px #fff">-73,9%</span>
<span class="t" style="left:17.65px;top:1485.46px;font-size:30.3px;font-weight:normal;color:#474747;transform:scaleX(0.9714);transform-origin:0 0;-webkit-text-stroke:0.4px #fff">Вірусні гепатити, зокрема:</span>
<span class="t" style="left:925.93px;top:1486.31px;font-size:29.3px;font-weight:normal;color:#474747;transform:scaleX(0.9333);transform-origin:0 0;-webkit-text-stroke:0.4px #fff">7 557</span>
<span class="t" style="left:1111.11px;top:1486.31px;font-size:29.3px;font-weight:normal;color:#474747;transform:scaleX(0.9321);transform-origin:0 0;-webkit-text-stroke:0.4px #fff">5 116</span>
<span class="t" style="left:1307.93px;top:1487.78px;font-size:28.5px;font-weight:normal;color:#3aaa35;transform:scaleX(0.9389);transform-origin:0 0;-webkit-text-stroke:0.25px #fff">-32,3%</span>
<span class="t" style="left:61.36px;top:1523.57px;font-size:30.3px;font-weight:normal;color:#474747;transform:scaleX(0.9828);transform-origin:0 0;-webkit-text-stroke:0.4px #fff">гострий гепатит А</span>
<span class="t" style="left:922.24px;top:1524.42px;font-size:29.3px;font-weight:normal;color:#474747;transform:scaleX(0.9826);transform-origin:0 0;-webkit-text-stroke:0.4px #fff">1 588</span>
<span class="t" style="left:1110.91px;top:1524.42px;font-size:29.3px;font-weight:normal;color:#474747;transform:scaleX(0.9749);transform-origin:0 0;-webkit-text-stroke:0.4px #fff">933</span>
<span class="t" style="left:1307.93px;top:1525.89px;font-size:28.5px;font-weight:normal;color:#3aaa35;transform:scaleX(0.9412);transform-origin:0 0;-webkit-text-stroke:0.25px #fff">-41,2%</span>
<span class="t" style="left:61.35px;top:1561.68px;font-size:30.3px;font-weight:normal;color:#474747;transform:scaleX(0.9895);transform-origin:0 0;-webkit-text-stroke:0.4px #fff">гострий гепатит В</span>
<span class="t" style="left:946.14px;top:1562.53px;font-size:29.3px;font-weight:normal;color:#474747;transform:scaleX(0.9879);transform-origin:0 0;-webkit-text-stroke:0.4px #fff">862</span>
<span class="t" style="left:1111.04px;top:1562.53px;font-size:29.3px;font-weight:normal;color:#474747;transform:scaleX(0.9869);transform-origin:0 0;-webkit-text-stroke:0.4px #fff">558</span>
<span class="t" style="left:1307.93px;top:1564.00px;font-size:28.5px;font-weight:normal;color:#3aaa35;transform:scaleX(0.9412);transform-origin:0 0;-webkit-text-stroke:0.25px #fff">-35,3%</span>
<span class="t" style="left:61.35px;top:1599.79px;font-size:30.3px;font-weight:normal;color:#474747;transform:scaleX(0.9919);transform-origin:0 0;-webkit-text-stroke:0.4px #fff">гострий гепатит С</span>
<span class="t" style="left:947.83px;top:1600.64px;font-size:29.3px;font-weight:normal;color:#474747;transform:scaleX(0.9495);transform-origin:0 0;-webkit-text-stroke:0.4px #fff">323</span>
<span class="t" style="left:1110.77px;top:1600.64px;font-size:29.3px;font-weight:normal;color:#474747;transform:scaleX(0.9780);transform-origin:0 0;-webkit-text-stroke:0.4px #fff">225</span>
<span class="t" style="left:1307.90px;top:1602.11px;font-size:28.5px;font-weight:normal;color:#3aaa35;transform:scaleX(0.9639);transform-origin:0 0;-webkit-text-stroke:0.25px #fff">-30,3%</span>
<span class="t" style="left:64.11px;top:1637.90px;font-size:30.3px;font-weight:normal;color:#474747;transform:scaleX(0.9722);transform-origin:0 0;-webkit-text-stroke:0.4px #fff">хронічний вірусний гепатит, зокрема:</span>
<span class="t" style="left:924.95px;top:1638.75px;font-size:29.3px;font-weight:normal;color:#474747;transform:scaleX(0.9470);transform-origin:0 0;-webkit-text-stroke:0.4px #fff">4 707</span>
<span class="t" style="left:1111.21px;top:1638.75px;font-size:29.3px;font-weight:normal;color:#474747;transform:scaleX(0.9636);transform-origin:0 0;-webkit-text-stroke:0.4px #fff">3 328</span>
<span class="t" style="left:1307.91px;top:1640.22px;font-size:28.5px;font-weight:normal;color:#3aaa35;transform:scaleX(0.9548);transform-origin:0 0;-webkit-text-stroke:0.25px #fff">-29,3%</span>
<span class="t" style="left:105.10px;top:1676.01px;font-size:30.3px;font-weight:normal;color:#474747;transform:scaleX(0.9753);transform-origin:0 0;-webkit-text-stroke:0.4px #fff">хронічний гепатит В</span>
<span class="t" style="left:919.97px;top:1676.86px;font-size:29.3px;font-weight:normal;color:#474747;transform:scaleX(1.0140);transform-origin:0 0;-webkit-text-stroke:0.4px #fff">1 008</span>
<span class="t" style="left:1110.70px;top:1676.86px;font-size:29.3px;font-weight:normal;color:#474747;transform:scaleX(1.0256);transform-origin:0 0;-webkit-text-stroke:0.4px #fff">605</span>
<span class="t" style="left:1307.93px;top:1678.33px;font-size:28.5px;font-weight:normal;color:#3aaa35;transform:scaleX(0.9412);transform-origin:0 0;-webkit-text-stroke:0.25px #fff">-39,9%</span>
<span class="t" style="left:105.10px;top:1714.12px;font-size:30.3px;font-weight:normal;color:#474747;transform:scaleX(0.9772);transform-origin:0 0;-webkit-text-stroke:0.4px #fff">хронічний гепатит С</span>
<span class="t" style="left:925.03px;top:1714.97px;font-size:29.3px;font-weight:normal;color:#474747;transform:scaleX(0.9458);transform-origin:0 0;-webkit-text-stroke:0.4px #fff">3 661</span>
<span class="t" style="left:1110.70px;top:1714.97px;font-size:29.3px;font-weight:normal;color:#474747;transform:scaleX(1.0269);transform-origin:0 0;-webkit-text-stroke:0.4px #fff">2 684</span>
<span class="t" style="left:1307.93px;top:1716.44px;font-size:28.5px;font-weight:normal;color:#3aaa35;transform:scaleX(0.9412);transform-origin:0 0;-webkit-text-stroke:0.25px #fff">-26,7%</span>
<span class="t" style="left:17.66px;top:1752.23px;font-size:30.3px;font-weight:normal;color:#474747;transform:scaleX(0.9671);transform-origin:0 0;-webkit-text-stroke:0.4px #fff">Епідемічний паротит</span>
<span class="t" style="left:944.41px;top:1753.08px;font-size:29.3px;font-weight:normal;color:#474747;transform:scaleX(1.0181);transform-origin:0 0;-webkit-text-stroke:0.4px #fff">260</span>
<span class="t" style="left:1110.10px;top:1753.08px;font-size:29.3px;font-weight:normal;color:#474747;transform:scaleX(0.9573);transform-origin:0 0;-webkit-text-stroke:0.4px #fff">132</span>
<span class="t" style="left:1307.88px;top:1754.55px;font-size:28.5px;font-weight:normal;color:#3aaa35;transform:scaleX(0.9809);transform-origin:0 0;-webkit-text-stroke:0.25px #fff">-49,2%</span>
<span class="t" style="left:17.93px;top:1790.34px;font-size:30.3px;font-weight:normal;color:#474747;transform:scaleX(0.9801);transform-origin:0 0;-webkit-text-stroke:0.4px #fff">Інфекційний мононуклеоз</span>
<span class="t" style="left:919.56px;top:1791.19px;font-size:29.3px;font-weight:normal;color:#474747;transform:scaleX(1.0177);transform-origin:0 0;-webkit-text-stroke:0.4px #fff">3 480</span>
<span class="t" style="left:1110.77px;top:1791.19px;font-size:29.3px;font-weight:normal;color:#474747;transform:scaleX(0.9787);transform-origin:0 0;-webkit-text-stroke:0.4px #fff">2 041</span>
<span class="t" style="left:1307.93px;top:1792.66px;font-size:28.5px;font-weight:normal;color:#3aaa35;transform:scaleX(0.9412);transform-origin:0 0;-webkit-text-stroke:0.25px #fff">-41,3%</span>
<span class="t" style="left:17.78px;top:1828.45px;font-size:30.3px;font-weight:normal;color:#474747;transform:scaleX(0.9173);transform-origin:0 0;-webkit-text-stroke:0.4px #fff">Малярія</span>
<span class="t" style="left:962.26px;top:1829.30px;font-size:29.3px;font-weight:normal;color:#474747;transform:scaleX(0.9826);transform-origin:0 0;-webkit-text-stroke:0.4px #fff">23</span>
<span class="t" style="left:1110.18px;top:1829.30px;font-size:29.3px;font-weight:normal;color:#474747;transform:scaleX(0.9182);transform-origin:0 0;-webkit-text-stroke:0.4px #fff">13</span>
<span class="t" style="left:1307.85px;top:1830.77px;font-size:28.5px;font-weight:normal;color:#3aaa35;transform:scaleX(1.0068);transform-origin:0 0;-webkit-text-stroke:0.25px #fff">-10 вип</span>
<span class="t" style="left:17.68px;top:1866.56px;font-size:30.3px;font-weight:normal;color:#474747;transform:scaleX(0.9550);transform-origin:0 0;-webkit-text-stroke:0.4px #fff">Педикульоз і фтиріоз</span>
<span class="t" style="left:921.86px;top:1867.41px;font-size:29.3px;font-weight:normal;color:#474747;transform:scaleX(0.9819);transform-origin:0 0;-webkit-text-stroke:0.4px #fff">7 204</span>
<span class="t" style="left:1111.62px;top:1867.41px;font-size:29.3px;font-weight:normal;color:#474747;transform:scaleX(0.9976);transform-origin:0 0;-webkit-text-stroke:0.4px #fff">4 284</span>
<span class="t" style="left:1307.88px;top:1868.88px;font-size:28.5px;font-weight:normal;color:#3aaa35;transform:scaleX(0.9809);transform-origin:0 0;-webkit-text-stroke:0.25px #fff">-40,5%</span>
<span class="t" style="left:17.59px;top:1904.67px;font-size:30.3px;font-weight:normal;color:#474747;transform:scaleX(0.9934);transform-origin:0 0;-webkit-text-stroke:0.4px #fff">Короста</span>
<span class="t" style="left:929.77px;top:1905.52px;font-size:29.3px;font-weight:normal;color:#474747;transform:scaleX(0.8800);transform-origin:0 0;-webkit-text-stroke:0.4px #fff">3 741</span>
<span class="t" style="left:1110.74px;top:1905.52px;font-size:29.3px;font-weight:normal;color:#474747;transform:scaleX(0.9950);transform-origin:0 0;-webkit-text-stroke:0.4px #fff">2 298</span>
<span class="t" style="left:1307.92px;top:1906.99px;font-size:28.5px;font-weight:normal;color:#3aaa35;transform:scaleX(0.9491);transform-origin:0 0;-webkit-text-stroke:0.25px #fff">-38,5%</span>
<span class="t" style="left:17.76px;top:1942.78px;font-size:30.3px;font-weight:normal;color:#474747;transform:scaleX(0.9253);transform-origin:0 0;-webkit-text-stroke:0.4px #fff">Гемофільна інфекція</span>
<span class="t" style="left:963.41px;top:1943.63px;font-size:29.3px;font-weight:normal;color:#474747;transform:scaleX(0.9504);transform-origin:0 0;-webkit-text-stroke:0.4px #fff">19</span>
<span class="t" style="left:1111.06px;top:1943.63px;font-size:29.3px;font-weight:normal;color:#474747;transform:scaleX(0.9700);transform-origin:0 0;-webkit-text-stroke:0.4px #fff">5</span>
<span class="t" style="left:1307.86px;top:1945.10px;font-size:28.5px;font-weight:normal;color:#3aaa35;transform:scaleX(0.9960);transform-origin:0 0;-webkit-text-stroke:0.25px #fff">-14 вип</span>
<svg class="abs" style="left:0;top:0" width="1442" height="2048">
<polyline points="1041.05,431.70 1056.10,446.75 1071.15,431.70" fill="none" stroke="#3aaa35" stroke-width="3.4" stroke-linecap="butt" stroke-linejoin="miter"/>
<polyline points="1041.05,469.90 1056.10,484.95 1071.15,469.90" fill="none" stroke="#3aaa35" stroke-width="3.4" stroke-linecap="butt" stroke-linejoin="miter"/>
<polyline points="1041.05,522.30 1056.10,537.35 1071.15,522.30" fill="none" stroke="#3aaa35" stroke-width="3.4" stroke-linecap="butt" stroke-linejoin="miter"/>
<polyline points="1041.05,595.55 1056.10,580.50 1071.15,595.55" fill="none" stroke="#d0101b" stroke-width="3.4" stroke-linecap="butt" stroke-linejoin="miter"/>
<polyline points="1041.05,620.20 1056.10,635.25 1071.15,620.20" fill="none" stroke="#3aaa35" stroke-width="3.4" stroke-linecap="butt" stroke-linejoin="miter"/>
<polyline points="1041.05,658.40 1056.10,673.45 1071.15,658.40" fill="none" stroke="#3aaa35" stroke-width="3.4" stroke-linecap="butt" stroke-linejoin="miter"/>
<polyline points="1041.05,710.90 1056.10,725.95 1071.15,710.90" fill="none" stroke="#3aaa35" stroke-width="3.4" stroke-linecap="butt" stroke-linejoin="miter"/>
<polyline points="1041.05,784.75 1056.10,769.70 1071.15,784.75" fill="none" stroke="#d0101b" stroke-width="3.4" stroke-linecap="butt" stroke-linejoin="miter"/>
<polyline points="1041.05,859.65 1056.10,844.60 1071.15,859.65" fill="none" stroke="#d0101b" stroke-width="3.4" stroke-linecap="butt" stroke-linejoin="miter"/>
<polyline points="1041.05,885.00 1056.10,900.05 1071.15,885.00" fill="none" stroke="#3aaa35" stroke-width="3.4" stroke-linecap="butt" stroke-linejoin="miter"/>
<polyline points="1041.05,933.55 1056.10,918.50 1071.15,933.55" fill="none" stroke="#d0101b" stroke-width="3.4" stroke-linecap="butt" stroke-linejoin="miter"/>
<polyline points="1041.05,1000.90 1056.10,1015.95 1071.15,1000.90" fill="none" stroke="#3aaa35" stroke-width="3.4" stroke-linecap="butt" stroke-linejoin="miter"/>
<polyline points="1041.05,1038.80 1056.10,1053.85 1071.15,1038.80" fill="none" stroke="#3aaa35" stroke-width="3.4" stroke-linecap="butt" stroke-linejoin="miter"/>
<polyline points="1041.05,1076.80 1056.10,1091.85 1071.15,1076.80" fill="none" stroke="#3aaa35" stroke-width="3.4" stroke-linecap="butt" stroke-linejoin="miter"/>
<polyline points="1041.05,1114.90 1056.10,1129.95 1071.15,1114.90" fill="none" stroke="#3aaa35" stroke-width="3.4" stroke-linecap="butt" stroke-linejoin="miter"/>
<polyline points="1041.05,1282.05 1056.10,1267.00 1071.15,1282.05" fill="none" stroke="#d0101b" stroke-width="3.4" stroke-linecap="butt" stroke-linejoin="miter"/>
<polyline points="1041.05,1304.20 1056.10,1319.25 1071.15,1304.20" fill="none" stroke="#3aaa35" stroke-width="3.4" stroke-linecap="butt" stroke-linejoin="miter"/>
<polyline points="1041.05,1342.50 1056.10,1357.55 1071.15,1342.50" fill="none" stroke="#3aaa35" stroke-width="3.4" stroke-linecap="butt" stroke-linejoin="miter"/>
<polyline points="1041.05,1418.80 1056.10,1433.85 1071.15,1418.80" fill="none" stroke="#3aaa35" stroke-width="3.4" stroke-linecap="butt" stroke-linejoin="miter"/>
<polyline points="1041.05,1456.80 1056.10,1471.85 1071.15,1456.80" fill="none" stroke="#3aaa35" stroke-width="3.4" stroke-linecap="butt" stroke-linejoin="miter"/>
<polyline points="1041.05,1494.80 1056.10,1509.85 1071.15,1494.80" fill="none" stroke="#3aaa35" stroke-width="3.4" stroke-linecap="butt" stroke-linejoin="miter"/>
<polyline points="1041.05,1532.90 1056.10,1547.95 1071.15,1532.90" fill="none" stroke="#3aaa35" stroke-width="3.4" stroke-linecap="butt" stroke-linejoin="miter"/>
<polyline points="1041.05,1571.20 1056.10,1586.25 1071.15,1571.20" fill="none" stroke="#3aaa35" stroke-width="3.4" stroke-linecap="butt" stroke-linejoin="miter"/>
<polyline points="1041.05,1609.40 1056.10,1624.45 1071.15,1609.40" fill="none" stroke="#3aaa35" stroke-width="3.4" stroke-linecap="butt" stroke-linejoin="miter"/>
<polyline points="1041.05,1647.10 1056.10,1662.15 1071.15,1647.10" fill="none" stroke="#3aaa35" stroke-width="3.4" stroke-linecap="butt" stroke-linejoin="miter"/>
<polyline points="1041.05,1685.40 1056.10,1700.45 1071.15,1685.40" fill="none" stroke="#3aaa35" stroke-width="3.4" stroke-linecap="butt" stroke-linejoin="miter"/>
<polyline points="1041.05,1723.80 1056.10,1738.85 1071.15,1723.80" fill="none" stroke="#3aaa35" stroke-width="3.4" stroke-linecap="butt" stroke-linejoin="miter"/>
<polyline points="1041.05,1762.00 1056.10,1777.05 1071.15,1762.00" fill="none" stroke="#3aaa35" stroke-width="3.4" stroke-linecap="butt" stroke-linejoin="miter"/>
<polyline points="1041.05,1800.10 1056.10,1815.15 1071.15,1800.10" fill="none" stroke="#3aaa35" stroke-width="3.4" stroke-linecap="butt" stroke-linejoin="miter"/>
<polyline points="1041.05,1838.30 1056.10,1853.35 1071.15,1838.30" fill="none" stroke="#3aaa35" stroke-width="3.4" stroke-linecap="butt" stroke-linejoin="miter"/>
<polyline points="1041.05,1876.60 1056.10,1891.65 1071.15,1876.60" fill="none" stroke="#3aaa35" stroke-width="3.4" stroke-linecap="butt" stroke-linejoin="miter"/>
<polyline points="1041.05,1914.60 1056.10,1929.65 1071.15,1914.60" fill="none" stroke="#3aaa35" stroke-width="3.4" stroke-linecap="butt" stroke-linejoin="miter"/>
<polyline points="1041.05,1952.70 1056.10,1967.75 1071.15,1952.70" fill="none" stroke="#3aaa35" stroke-width="3.4" stroke-linecap="butt" stroke-linejoin="miter"/>
<circle cx="40.1" cy="589.77" r="3.8" fill="#f29100"/>
<circle cx="40.1" cy="627.88" r="3.8" fill="#f29100"/>
<circle cx="40.1" cy="665.99" r="3.8" fill="#f29100"/>
<circle cx="40.1" cy="1390.08" r="3.8" fill="#f29100"/>
<circle cx="40.1" cy="1542.52" r="3.8" fill="#f29100"/>
<circle cx="40.1" cy="1580.63" r="3.8" fill="#f29100"/>
<circle cx="40.1" cy="1618.74" r="3.8" fill="#f29100"/>
<circle cx="40.1" cy="1656.85" r="3.8" fill="#f29100"/>
<circle cx="83.6" cy="1693.66" r="3.75" fill="none" stroke="#f29100" stroke-width="1.7"/>
<circle cx="83.6" cy="1731.77" r="3.75" fill="none" stroke="#f29100" stroke-width="1.7"/>
</svg>
</body></html>
